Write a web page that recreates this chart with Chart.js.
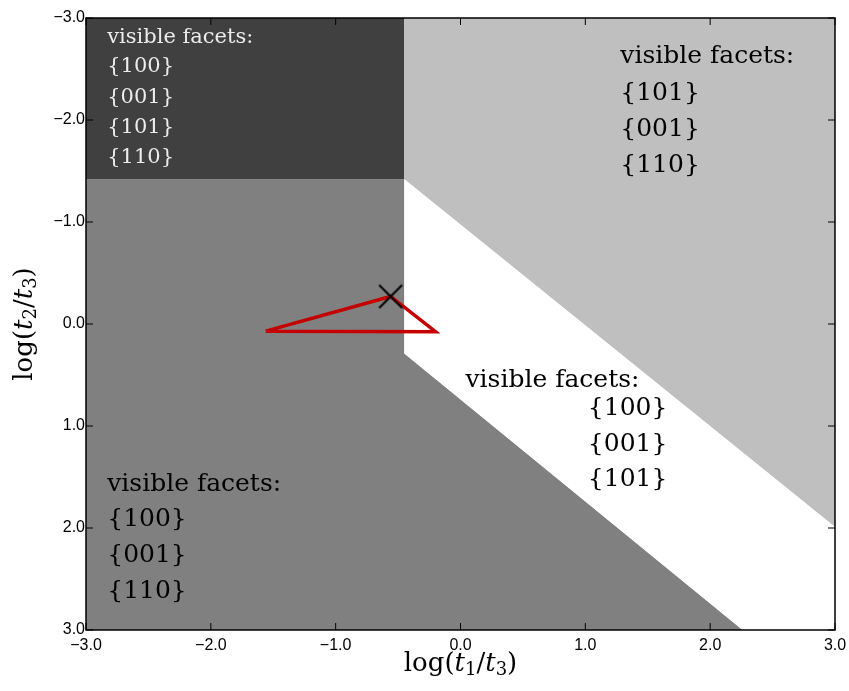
<!DOCTYPE html>
<html>
<head>
<meta charset="utf-8">
<script src="https://cdn.jsdelivr.net/npm/chart.js@4.4.1/dist/chart.umd.min.js"></script>
<style>
  html, body { margin: 0; padding: 0; background: #fff; }
</style>
</head>
<body>
<canvas id="chart" width="849" height="691"></canvas>
<script>
// axis ticks, log(t1/t3) and log(t2/t3)
const tickValues = [-3, -2, -1, 0, 1, 2, 3];

// region corners (x = log(t1/t3), y = log(t2/t3))
const midX = [-3, -0.45, -0.45, 2.26, -3];
const midY = [-1.42, -1.42, 0.29, 3, 3];
const darkX = [-3, -0.45, -0.45, -3];
const darkY = [-3, -3, -1.42, -1.42];
const lightX = [-0.45, 3, 3, -0.45];
const lightY = [-3, -3, 1.99, -1.42];
const whiteX = [-0.45, 3, 3, 2.26, -0.45];
const whiteY = [-1.42, 1.99, 3, 3, 0.29];

// red path and marker
const pathX = [-1.56, -0.56, -0.20, -1.56];
const pathY = [0.07, -0.27, 0.075, 0.07];
const markX = [-0.56];
const markY = [-0.27];

// region texts
const facetTitle = 'visible facets:';
const facetsTopLeft = ['{100}', '{001}', '{101}', '{110}'];
const facetsTopRight = ['{101}', '{001}', '{110}'];
const facetsMiddle = ['{100}', '{001}', '{101}'];
const facetsBottomLeft = ['{100}', '{001}', '{110}'];

const SERIF = '"DejaVu Serif", "Liberation Serif", serif';

function pts(xs, ys) {
    return xs.map((x, i) => ({ x: x, y: ys[i] }));
}

function region(xs, ys, color, order) {
    return {
        data: pts(xs, ys),
        backgroundColor: color,
        borderWidth: 0,
        pointRadius: 0,
        fill: 'shape',
        tension: 0,
        order: order
    };
}

// big "x" marker as a point style image
const xMark = document.createElement('canvas');
xMark.width = 26; xMark.height = 26;
(() => {
    const c = xMark.getContext('2d');
    c.strokeStyle = '#000';
    c.lineWidth = 2;
    c.beginPath();
    c.moveTo(1.5, 1.5); c.lineTo(24.5, 24.5);
    c.moveTo(24.5, 1.5); c.lineTo(1.5, 24.5);
    c.stroke();
})();

const tickLabel = v => (v < 0 ? '\u2212' : '') + Math.abs(v).toFixed(1);

// draws "log(t_a/t_b)" with italic t and subscripts, centred at (cx, cy)
function drawMathLabel(ctx, cx, cy, a, b) {
    const parts = [
        { t: 'log(', f: '26px ' + SERIF, dy: 0 },
        { t: 't', f: 'italic 26px ' + SERIF, dy: 0 },
        { t: a, f: '18px ' + SERIF, dy: 6 },
        { t: '/', f: '26px ' + SERIF, dy: 0 },
        { t: 't', f: 'italic 26px ' + SERIF, dy: 0 },
        { t: b, f: '18px ' + SERIF, dy: 6 },
        { t: ')', f: '26px ' + SERIF, dy: 0 }
    ];
    let total = 0;
    parts.forEach(p => { ctx.font = p.f; p.w = ctx.measureText(p.t).width; total += p.w; });
    let x = cx - total / 2;
    ctx.textBaseline = 'middle';
    ctx.textAlign = 'left';
    ctx.fillStyle = '#000';
    parts.forEach(p => {
        ctx.font = p.f;
        ctx.fillText(p.t, x, cy + p.dy);
        x += p.w;
    });
}

const decor = {
    id: 'decor',
    afterDatasetsDraw(chart) {
        const ctx = chart.ctx;
        const xs = chart.scales.x, ys = chart.scales.y;
        // title at (tx, ty), list starting at (lx, ly), in data units
        const block = (tx, ty, list, lx, ly, step, size, color) => {
            ctx.save();
            ctx.fillStyle = color;
            ctx.textAlign = 'left';
            ctx.textBaseline = 'middle';
            ctx.font = size + 'px ' + SERIF;
            ctx.fillText(facetTitle, xs.getPixelForValue(tx), ys.getPixelForValue(ty));
            const px = xs.getPixelForValue(lx);
            const py = ys.getPixelForValue(ly);
            list.forEach((s, i) => ctx.fillText(s, px, py + i * step));
            ctx.restore();
        };
        block(-2.83, -2.81, facetsTopLeft, -2.83, -2.52, 30.3, 21, '#ececec');
        block(1.28, -2.62, facetsTopRight, 1.28, -2.26, 36, 25, '#000');
        block(0.04, 0.55, facetsMiddle, 1.02, 0.83, 35.5, 25, '#000');
        block(-2.83, 1.57, facetsBottomLeft, -2.83, 1.92, 36, 25, '#000');
    },
    afterDraw(chart) {
        const ctx = chart.ctx;
        const a = chart.chartArea;
        const xs = chart.scales.x, ys = chart.scales.y;
        ctx.save();
        ctx.strokeStyle = '#000';
        ctx.lineWidth = 1;
        tickValues.forEach(v => {
            const px = xs.getPixelForValue(v);
            const py = ys.getPixelForValue(v);
            ctx.beginPath();
            ctx.moveTo(px, a.bottom); ctx.lineTo(px, a.bottom - 7);
            ctx.moveTo(px, a.top); ctx.lineTo(px, a.top + 7);
            ctx.moveTo(a.left, py); ctx.lineTo(a.left + 7, py);
            ctx.moveTo(a.right, py); ctx.lineTo(a.right - 7, py);
            ctx.stroke();
        });
        ctx.lineWidth = 1.5;
        ctx.strokeRect(a.left, a.top, a.right - a.left, a.bottom - a.top);

        drawMathLabel(ctx, (a.left + a.right) / 2, 664, '1', '3');
        ctx.save();
        ctx.translate(25, (a.top + a.bottom) / 2);
        ctx.rotate(-Math.PI / 2);
        drawMathLabel(ctx, 0, 0, '2', '3');
        ctx.restore();
        ctx.restore();
    }
};

new Chart(document.getElementById('chart'), {
    type: 'line',
    data: {
        datasets: [
            {
                type: 'scatter',
                data: pts(markX, markY),
                pointStyle: xMark,
                pointRadius: 2,
                borderWidth: 0,
                order: 0
            },
            {
                data: pts(pathX, pathY),
                borderColor: '#c40000',
                borderWidth: 3.5,
                pointRadius: 0,
                fill: false,
                tension: 0,
                order: 1
            },
            region(whiteX, whiteY, '#ffffff', 2),
            region(lightX, lightY, '#bfbfbf', 3),
            region(darkX, darkY, '#404040', 4),
            region(midX, midY, '#808080', 5)
        ]
    },
    options: {
        responsive: false,
        animation: false,
        events: [],
        layout: { autoPadding: false, padding: { top: 18, right: 14, left: 0, bottom: 0 } },
        plugins: {
            legend: { display: false },
            tooltip: { enabled: false }
        },
        scales: {
            x: {
                type: 'linear',
                min: -3, max: 3,
                afterFit: s => { s.height = 61; s.paddingLeft = 0; s.paddingRight = 0; },
                afterBuildTicks: s => { s.ticks = tickValues.map(v => ({ value: v })); },
                ticks: {
                    callback: tickLabel,
                    color: '#000',
                    padding: 6,
                    maxRotation: 0,
                    font: { family: '"Liberation Sans", Arial, sans-serif', size: 16 }
                },
                grid: { display: false, drawTicks: false },
                border: { display: false }
            },
            y: {
                type: 'linear',
                reverse: true,
                min: -3, max: 3,
                afterFit: s => { s.width = 86; s.paddingTop = 0; s.paddingBottom = 0; },
                afterBuildTicks: s => { s.ticks = tickValues.map(v => ({ value: v })); },
                ticks: {
                    callback: tickLabel,
                    color: '#000',
                    padding: 1,
                    font: { family: '"Liberation Sans", Arial, sans-serif', size: 16 }
                },
                grid: { display: false, drawTicks: false },
                border: { display: false }
            }
        }
    },
    plugins: [decor]
});
</script>
</body>
</html>
